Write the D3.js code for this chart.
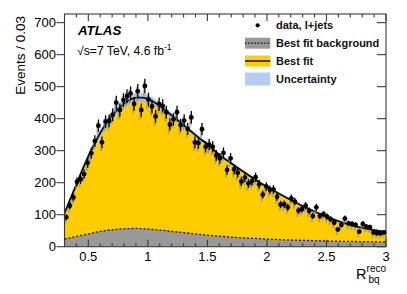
<!DOCTYPE html>
<html>
<head>
<meta charset="utf-8">
<script src="https://cdn.jsdelivr.net/npm/d3@7"></script>
<style>
  body { margin: 0; background: #fff; }
  text { font-family: "Liberation Sans", Arial, sans-serif; }
</style>
</head>
<body>
<svg id="chart" width="407" height="294"></svg>
<script>
// data, l+jets: bin centres 0.315 ... 2.985 (width 0.03)
const binLow = 0.3
const binWidth = 0.03
const dataCounts = [
  92, 128, 154, 203, 211, 227, 262, 292, 330, 378,
  326, 391, 393, 412, 450, 427, 458, 470, 479, 446,
  486, 427, 502, 460, 438, 407, 445, 440, 420, 382,
  398, 420, 380, 394, 368, 404, 326, 324, 367, 312,
  319, 312, 285, 276, 293, 240, 276, 242, 231, 204,
  216, 198, 205, 217, 195, 163, 188, 178, 179, 156,
  132, 133, 123, 151, 141, 113, 118, 128, 112, 96,
  123, 96, 102, 94, 86, 75, 54, 68, 88, 73,
  71, 68, 47, 71, 63, 61, 44, 42, 42, 45
]

// best fit curve
const fitX = [0.3, 0.35, 0.4, 0.45, 0.5, 0.55, 0.6, 0.65, 0.7, 0.75, 0.8, 0.85, 0.9, 0.95, 1.0,
  1.05, 1.1, 1.15, 1.2, 1.25, 1.3, 1.35, 1.4, 1.45, 1.5, 1.6, 1.7, 1.8, 1.9, 2.0,
  2.1, 2.2, 2.3, 2.4, 2.5, 2.6, 2.7, 2.8, 2.9, 3.0]
const fitY = [105, 150, 195, 240, 282, 320, 355, 385, 410, 430, 447, 459, 466, 466, 462,
  452, 440, 425, 410, 395, 380, 364, 349, 334, 320, 287, 261, 235, 210, 187,
  166, 146, 127, 110, 94, 80, 68, 59, 52, 47]
const fitUnc = [6, 7, 8, 9, 10, 11, 12, 13, 13, 14, 14, 14, 14, 14, 13,
  12, 11, 10, 9, 8, 8, 7, 7, 6, 6, 6, 5, 5, 5, 5,
  4, 4, 4, 4, 3, 3, 3, 3, 3, 3]

// best fit background
const bkgX = [0.3, 0.4, 0.5, 0.6, 0.7, 0.8, 0.9, 1.0, 1.1, 1.2, 1.3, 1.4, 1.5, 1.6, 1.7,
  1.8, 1.9, 2.0, 2.2, 2.4, 2.6, 2.8, 3.0]
const bkgY = [24, 32, 40, 48, 53, 56, 57, 55, 52, 48, 44, 40, 36, 33, 30,
  28, 26, 24, 21, 19, 17, 16, 15]

const xTicks = [0.5, 1, 1.5, 2, 2.5, 3]
const yTicks = [0, 100, 200, 300, 400, 500, 600, 700]

const svg = d3.select('#chart')
const x = d3.scaleLinear().domain([0.3, 3]).range([64.5, 386])
const y = d3.scaleLinear().domain([0, 727]).range([246.7, 14])

const fitPts = fitX.map((v, i) => ({x: v, y: fitY[i], u: fitUnc[i]}))
const bkgPts = bkgX.map((v, i) => ({x: v, y: bkgY[i]}))

const plot = svg.append('g')
plot.append('clipPath').attr('id', 'clip')
  .append('rect').attr('x', 64.5).attr('y', 14).attr('width', 321.5).attr('height', 232.7)
const inner = plot.append('g').attr('clip-path', 'url(#clip)')

// yellow best fit
inner.append('path')
  .datum(fitPts)
  .attr('fill', '#ffcc00')
  .attr('d', d3.area().curve(d3.curveMonotoneX)
    .x(d => x(d.x)).y0(y(0)).y1(d => y(d.y)))

// grey background
inner.append('path')
  .datum(bkgPts)
  .attr('fill', '#999999')
  .attr('d', d3.area().curve(d3.curveMonotoneX)
    .x(d => x(d.x)).y0(y(0)).y1(d => y(d.y)))
inner.append('path')
  .datum(bkgPts)
  .attr('fill', 'none')
  .attr('stroke', '#111')
  .attr('stroke-width', 1.3)
  .attr('stroke-dasharray', '2,2')
  .attr('d', d3.line().curve(d3.curveMonotoneX).x(d => x(d.x)).y(d => y(d.y)))

// uncertainty band
inner.append('path')
  .datum(fitPts)
  .attr('fill', '#9dbcf2')
  .attr('fill-opacity', 0.75)
  .attr('d', d3.area().curve(d3.curveMonotoneX)
    .x(d => x(d.x)).y0(d => y(d.y - d.u)).y1(d => y(d.y + d.u)))

inner.append('path')
  .datum(fitPts)
  .attr('fill', 'none')
  .attr('stroke', '#0a0f1e')
  .attr('stroke-width', 1.8)
  .attr('d', d3.line().curve(d3.curveMonotoneX).x(d => x(d.x)).y(d => y(d.y)))

// data points
const pts = dataCounts.map((n, i) => ({x: binLow + binWidth * (i + 0.5), n}))
const shadow = plot.append('g')
shadow.selectAll('line').data(pts).join('line')
  .attr('x1', d => x(d.x) - 1).attr('x2', d => x(d.x) - 1)
  .attr('y1', d => y(d.n + Math.sqrt(d.n)) + 3)
  .attr('y2', d => y(d.n - Math.sqrt(d.n)) + 3)
  .attr('stroke', '#8a8a8a').attr('stroke-opacity', 0.6).attr('stroke-width', 2)
const dots = plot.append('g')
dots.selectAll('line').data(pts).join('line')
  .attr('x1', d => x(d.x)).attr('x2', d => x(d.x))
  .attr('y1', d => y(d.n + Math.sqrt(d.n)))
  .attr('y2', d => y(d.n - Math.sqrt(d.n)))
  .attr('stroke', '#000').attr('stroke-width', 1.3)
dots.selectAll('circle').data(pts).join('circle')
  .attr('cx', d => x(d.x)).attr('cy', d => y(d.n)).attr('r', 2.4)
  .attr('fill', '#000')

// frame and ticks
const axisCol = '#3a3a3a'
const ax = svg.append('g').attr('stroke', axisCol).attr('stroke-width', 1.1)
ax.append('rect').attr('x', 64.5).attr('y', 14).attr('width', 321.5).attr('height', 232.7)
  .attr('fill', 'none')
const minorX = d3.range(4, 31).map(v => v / 10)
minorX.forEach(v => {
  const major = xTicks.includes(v)
  const len = major ? 7 : 3.5
  ax.append('line').attr('x1', x(v)).attr('x2', x(v)).attr('y1', y(0)).attr('y2', y(0) - len)
  ax.append('line').attr('x1', x(v)).attr('x2', x(v)).attr('y1', 14).attr('y2', 14 + len)
})
yTicks.forEach(v => {
  ax.append('line').attr('x1', 56.5).attr('x2', 64.5).attr('y1', y(v)).attr('y2', y(v))
  ax.append('line').attr('x1', 377).attr('x2', 386).attr('y1', y(v)).attr('y2', y(v))
})

svg.append('g').selectAll('text').data(xTicks).join('text')
  .attr('x', d => x(d)).attr('y', 260.5)
  .attr('text-anchor', 'middle').attr('font-size', 13)
  .text(d => d)
svg.append('g').selectAll('text').data(yTicks).join('text')
  .attr('x', 56).attr('y', d => y(d) + 4.6)
  .attr('text-anchor', 'end').attr('font-size', 13)
  .text(d => d)

svg.append('text')
  .attr('transform', 'translate(25,16) rotate(-90)')
  .attr('text-anchor', 'end').attr('font-size', 13.5)
  .text('Events / 0.03')

const xt = svg.append('text').attr('x', 386).attr('y', 279).attr('text-anchor', 'end')
xt.append('tspan').attr('font-size', 14.5).text('R')
xt.append('tspan').attr('font-size', 10).attr('dy', -7).text('reco')
const xs = svg.append('text').attr('x', 368.5).attr('y', 283).attr('font-size', 10).text('bq')

// labels
svg.append('text').attr('x', 78).attr('y', 34.5)
  .attr('font-size', 13.3).attr('font-weight', 'bold').attr('font-style', 'italic')
  .text('ATLAS')
const ecm = svg.append('text').attr('x', 77).attr('y', 54.5).attr('font-size', 12.2)
ecm.append('tspan').text('\u221As=7 TeV, 4.6 fb')
ecm.append('tspan').attr('font-size', 8.5).attr('dy', -5).text('-1')

// legend
const leg = svg.append('g').attr('font-size', 11).attr('font-weight', 'bold')
const rows = [25.3, 43.2, 61, 79]
const labels = ['data, l+jets', 'Best fit background', 'Best fit', 'Uncertainty']
leg.append('circle').attr('cx', 257.7).attr('cy', rows[0]).attr('r', 2.1).attr('fill', '#000')
leg.append('rect').attr('x', 245).attr('y', rows[1] - 5.5).attr('width', 25.3).attr('height', 11)
  .attr('fill', '#999999')
leg.append('line').attr('x1', 245).attr('x2', 270.3).attr('y1', rows[1]).attr('y2', rows[1])
  .attr('stroke', '#111').attr('stroke-width', 1.2).attr('stroke-dasharray', '1.6,1.6')
leg.append('rect').attr('x', 245).attr('y', rows[2] - 5.5).attr('width', 25.3).attr('height', 11)
  .attr('fill', '#ffcc00')
leg.append('line').attr('x1', 245).attr('x2', 270.3).attr('y1', rows[2]).attr('y2', rows[2])
  .attr('stroke', '#111').attr('stroke-width', 1.5)
leg.append('rect').attr('x', 245).attr('y', rows[3] - 6.5).attr('width', 25.3).attr('height', 13)
  .attr('fill', '#b3cdf7')
leg.selectAll('text.l').data(labels).join('text')
  .attr('x', 276).attr('y', (d, i) => rows[i] + 4)
  .attr('fill', '#111')
  .text(d => d)
</script>
</body>
</html>
